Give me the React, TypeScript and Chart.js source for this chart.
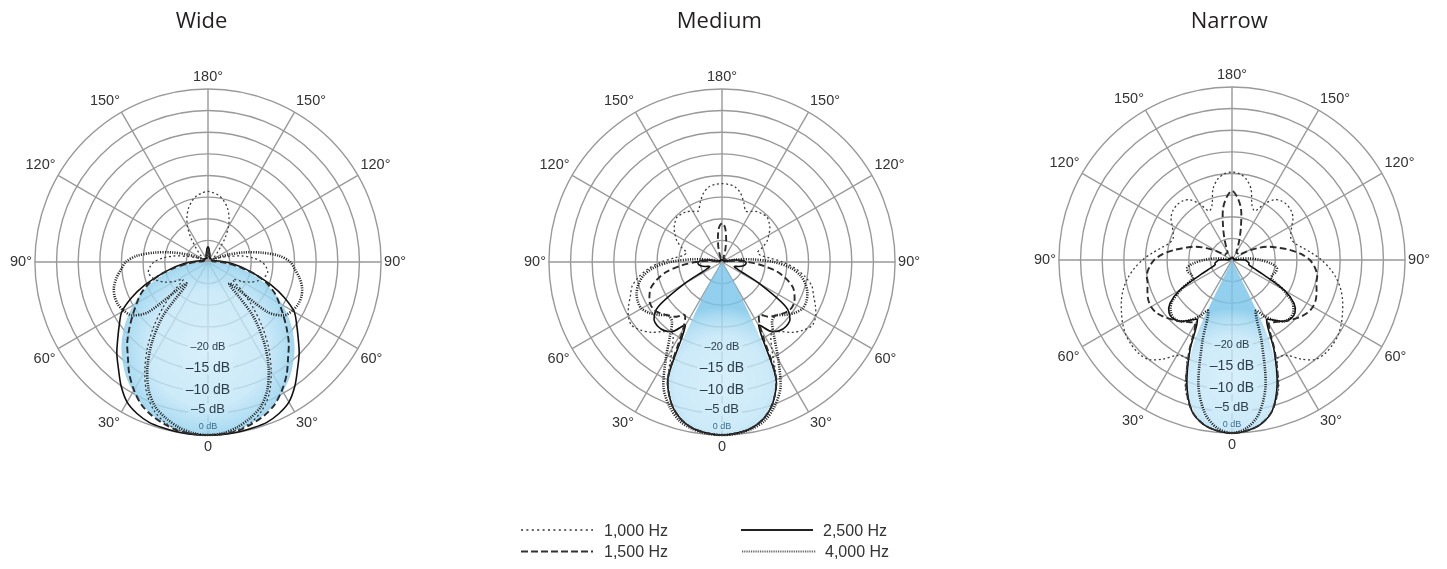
import React, { useEffect, useRef } from 'react';
import { Chart, registerables } from 'chart.js';

Chart.register(...registerables);

// ---------- categories (angle in degrees, 0 = on-axis, read on one side; patterns are symmetric)
const ANGLES = [0, 5, 10, 15, 20, 25, 30, 35, 40, 45, 50, 55, 60, 65, 70, 75, 80, 85, 90,
  95, 100, 105, 110, 115, 120, 125, 130, 135, 140, 145, 150, 155, 160, 165, 170, 175, 180];

const FREQ_LABELS = ['1,000 Hz', '1,500 Hz', '2,500 Hz', '4,000 Hz'];
const PANEL_TITLES = ['Wide', 'Medium', 'Narrow'];
const DB_TICKS = [-20, -15, -10, -5, 0];
const DB_LABELS = ['\u201320 dB', '\u201315 dB', '\u201310 dB', '\u20135 dB', '0 dB'];

// ---------- series values in dB (index i -> ANGLES[i])
const WIDE_FILL = [0, -0.2, -0.6, -1.4, -2.4, -3.7, -5.4, -7.2, -9.4, -11.7, -14.3, -17.1, -20, -23.1, -26.3, -29.6, -33, -36.5, -40,
  -40, -40, -40, -40, -40, -40, -40, -40, -40, -40, -40, -40, -40, -40, -40, -40, -40, -40];
const WIDE_1000 = [0, -0.2, -0.6, -1.6, -3.5, -6.5, -10.8, -15.5, -20.5, -25.5, -30, -33, -31, -29, -27.5, -26.5, -26, -26.5, -27.5,
  -29.5, -32, -35, -37, -38, -38.5, -38.5, -38, -37, -35.5, -33, -30.5, -28.5, -26.8, -25.5, -24.5, -24, -23.7];
const WIDE_1500 = [0, -0.1, -0.4, -1.2, -2.2, -3.6, -5.8, -8.3, -11.2, -13.6, -16.3, -18.8, -21, -23, -25.5, -28.5, -32, -35, -37,
  -38.5, -39, -39, -39, -39, -39, -39, -39, -39, -39, -39, -39, -39, -39, -38.5, -38, -37.5, -37];
const WIDE_2500 = [0, 0, -0.1, -0.3, -0.5, -1.3, -2.6, -5, -7.8, -10.2, -12.8, -15, -17, -20.5, -24.5, -28.5, -31.5, -34, -36,
  -37.5, -38.5, -39, -39, -39, -39, -39, -39, -39, -39, -39, -39, -39, -39, -38.5, -38, -37, -36.5];
const WIDE_4000 = [0, -0.3, -1.2, -2.6, -4.4, -7.5, -12, -17.5, -24, -33, -22, -18.5, -17.5, -17, -17, -17.5, -18.5, -19.8, -21,
  -23.5, -27.5, -31.5, -35, -37.5, -39, -39, -39, -39, -39, -39, -39, -39, -39, -39, -38.5, -38, -37.5];

const MED_FILL = [0, -0.3, -1.1, -2.9, -6, -11.5, -33, -40, -40, -40, -40, -40, -40, -40, -40, -40, -40, -40, -40,
  -40, -40, -40, -40, -40, -40, -40, -40, -40, -40, -40, -40, -40, -40, -40, -40, -40, -40];
const MED_1000 = [0, -0.3, -1, -2.6, -5.5, -10.5, -17, -20, -19, -17, -15.5, -14.5, -15, -16.2, -17.5, -18.5, -20.5, -23, -26,
  -29, -31, -31.5, -30, -28.5, -27.5, -26.5, -25.8, -25.3, -25.5, -25.8, -26.5, -27, -25.3, -23.5, -22.4, -22, -21.9];
const MED_1500 = [0, -0.3, -1, -2.6, -5.5, -10.5, -22, -25, -23.5, -22.5, -21.5, -20.8, -20.8, -21.5, -22.5, -24.5, -27, -30.5, -34,
  -37, -39, -39, -39, -39, -39, -39, -39, -39, -39, -39, -39, -39, -39, -37, -34.5, -32, -31];
const MED_2500 = [0, -0.3, -1, -2.6, -5.5, -10.5, -23, -20.5, -19.3, -19, -19.5, -22, -30, -36, -37, -36, -35, -34.5, -34.5,
  -35.5, -37.5, -39.5, -39.5, -39.5, -39.5, -39.5, -39.5, -39.5, -39.5, -39.5, -39.5, -39.5, -39.5, -39.5, -39.5, -39.5, -39.5];
const MED_4000 = [0, -0.2, -0.8, -2, -4.5, -8, -14, -19, -22, -22.5, -21, -19.5, -18.5, -18.5, -19, -20, -21.5, -24, -28,
  -33, -37, -39.5, -39.5, -39.5, -39.5, -39.5, -39.5, -39.5, -39.5, -39.5, -39.5, -39.5, -39.5, -39.5, -39.5, -39.5, -39.5];

const NAR_FILL = [0, -0.4, -1.6, -4.5, -9.5, -20, -40, -40, -40, -40, -40, -40, -40, -40, -40, -40, -40, -40, -40,
  -40, -40, -40, -40, -40, -40, -40, -40, -40, -40, -40, -40, -40, -40, -40, -40, -40, -40];
const NAR_1000 = [0, -0.4, -1.5, -4, -8.5, -15, -14.5, -12, -10, -9.5, -9.6, -10, -10.8, -11.8, -12.8, -14, -15.5, -17.3, -19.3,
  -21.5, -23.5, -25, -25.5, -25, -24, -22.8, -22.2, -22, -22.2, -23, -25, -27.5, -26.5, -23, -21, -20, -19.7];
const NAR_1500 = [0, -0.4, -1.5, -4, -9, -16.5, -23, -22.5, -21.5, -20.5, -19.5, -18.7, -18.4, -18.6, -19.2, -19.8, -20, -20.8, -22,
  -24, -26.5, -29, -31, -33.5, -36, -38, -38, -38, -38, -38, -38, -37, -35, -32, -28, -25.5, -24];
const NAR_2500 = [0, -0.4, -1.5, -4, -9.5, -17, -24, -23, -21.5, -20.8, -21, -22.5, -26, -32, -35, -36, -36, -36.5, -37,
  -39.5, -39.5, -39.5, -39.5, -39.5, -39.5, -39.5, -39.5, -39.5, -39.5, -39.5, -39.5, -39.5, -39.5, -39.5, -39.5, -39.5, -39.5];
const NAR_4000 = [0, -1, -4, -10, -20, -27, -25, -23, -21.5, -21, -21.5, -23, -26.5, -30, -30, -29.5, -29.5, -31, -33.5,
  -36, -38.5, -39.5, -39.5, -39.5, -39.5, -39.5, -39.5, -39.5, -39.5, -39.5, -39.5, -39.5, -39.5, -39.5, -39.5, -39.5, -39.5];

// ---------- styles
const LINE_STYLES = [
  { borderColor: '#3a3a3a', borderWidth: 1.3, borderDash: [2, 2.6] },
  { borderColor: '#2b2b2b', borderWidth: 1.9, borderDash: [6.5, 3.5] },
  { borderColor: '#111111', borderWidth: 1.6, borderDash: [] as number[] },
  { borderColor: '#262626', borderWidth: 2.6, borderDash: [1.1, 1.3] },
];
const DB_STYLE = [
  { size: 11, dy: -2, color: '#2c3e4a' },
  { size: 14, dy: -2, color: '#2c3e4a' },
  { size: 14, dy: -2, color: '#2c3e4a' },
  { size: 13, dy: -4, color: '#2c3e4a' },
  { size: 9, dy: -9, color: '#3d6f8e' },
];

const PANELS = [
  { title: PANEL_TITLES[0], series: [WIDE_1000, WIDE_1500, WIDE_2500, WIDE_4000], fill: WIDE_FILL, cx: 207.5, cy: 262, tx: 201, gc: -20, gr: 0.54 },
  { title: PANEL_TITLES[1], series: [MED_1000, MED_1500, MED_2500, MED_4000], fill: MED_FILL, cx: 721.7, cy: 262.5, tx: 719, gc: -12, gr: 0.44 },
  { title: PANEL_TITLES[2], series: [NAR_1000, NAR_1500, NAR_2500, NAR_4000], fill: NAR_FILL, cx: 1231.7, cy: 260.5, tx: 1229, gc: -12, gr: 0.42 },
];

const CW = 420;
const TITLE_BLOCK = 39.4;
const LABEL_FONT = '"Liberation Sans", Arial, sans-serif';

function mirror(half: number[]): number[] {
  return [...half, ...half.slice(1, half.length - 1).reverse()];
}

const FULL_LABELS = mirror(ANGLES).map((a) => (a === 0 ? '0' : `${a}\u00b0`));

const titlePlugin = {
  id: 'panelTitle',
  afterDraw(chart: any, _args: any, opts: any) {
    const ctx = chart.ctx;
    ctx.save();
    ctx.font = '22px "Open Sans", sans-serif';
    ctx.fillStyle = '#231f20';
    ctx.textAlign = 'center';
    ctx.textBaseline = 'alphabetic';
    ctx.fillText(opts.text, opts.x, opts.y);
    ctx.restore();
  },
};

const dbPlugin = {
  id: 'dbLabels',
  beforeDatasetsDraw(chart: any) {
    const s = chart.scales.r;
    const ctx = chart.ctx;
    ctx.save();
    DB_TICKS.forEach((v, i) => {
      const st = DB_STYLE[i];
      const p = s.getPointPositionForValue(0, v);
      ctx.font = `${st.size}px ${LABEL_FONT}`;
      const w = ctx.measureText(DB_LABELS[i]).width;
      ctx.fillStyle = '#ffffff';
      ctx.fillRect(p.x - w / 2 - 3, p.y + st.dy - st.size * 0.45, w + 6, st.size * 0.9);
    });
    ctx.restore();
  },
  afterDatasetsDraw(chart: any) {
    const s = chart.scales.r;
    const ctx = chart.ctx;
    ctx.save();
    ctx.textAlign = 'center';
    ctx.textBaseline = 'middle';
    DB_TICKS.forEach((v, i) => {
      const st = DB_STYLE[i];
      const p = s.getPointPositionForValue(0, v);
      ctx.font = `${st.size}px ${LABEL_FONT}`;
      ctx.fillStyle = st.color;
      ctx.fillText(DB_LABELS[i], p.x, p.y + st.dy);
    });
    ctx.restore();
  },
};

function PolarPanel({ panel }: { panel: typeof PANELS[number] }) {
  const ref = useRef<HTMLCanvasElement>(null);
  const H = Math.round(2 * panel.cy - TITLE_BLOCK + 3);
  const left = panel.cx - CW / 2;

  useEffect(() => {
    const canvas = ref.current;
    if (!canvas) return;
    const lineSets = panel.series.map((arr, i) => ({
      label: FREQ_LABELS[i],
      data: mirror(arr),
      borderColor: LINE_STYLES[i].borderColor,
      borderWidth: LINE_STYLES[i].borderWidth,
      borderDash: LINE_STYLES[i].borderDash,
      backgroundColor: 'transparent',
      pointRadius: 0,
      fill: false,
      tension: 0.3,
    }));
    const fillSet = {
      label: 'pattern',
      data: mirror(panel.fill),
      borderWidth: 0,
      borderColor: 'rgba(0,0,0,0)',
      pointRadius: 0,
      fill: 'start',
      tension: 0.3,
      backgroundColor: (c: any) => {
        const ch = c.chart;
        const s = ch.scales && ch.scales.r;
        if (!s || !s.drawingArea) return 'rgba(150,210,240,0.55)';
        const p = s.getPointPositionForValue(0, panel.gc);
        const rad = s.drawingArea * panel.gr;
        const g = ch.ctx.createRadialGradient(p.x, p.y, 0, p.x, p.y, rad);
        g.addColorStop(0, 'rgba(205,235,249,0.78)');
        g.addColorStop(0.62, 'rgba(192,229,247,0.8)');
        g.addColorStop(0.86, 'rgba(158,214,240,0.82)');
        g.addColorStop(1, 'rgba(122,197,234,0.82)');
        return g;
      },
    };
    const chart = new Chart(canvas, {
      type: 'radar',
      data: { labels: FULL_LABELS, datasets: [...lineSets, fillSet] as any },
      options: {
        responsive: false,
        animation: false,
        events: [],
        layout: { padding: { left: 12, right: 12, top: TITLE_BLOCK, bottom: H - (2 * panel.cy - TITLE_BLOCK) } },
        plugins: {
          legend: { display: false },
          tooltip: { enabled: false },
          title: { display: false },
          panelTitle: { text: panel.title, x: panel.tx - left, y: 27.5 },
        },
        scales: {
          r: {
            min: -40,
            max: 0,
            startAngle: 180,
            ticks: { display: false, stepSize: 5 },
            grid: { circular: true, color: '#999999', lineWidth: 1.4 },
            angleLines: {
              display: true,
              color: '#999999',
              lineWidth: (c: any) => (c.index % 6 === 0 ? 1.4 : 0),
            },
            pointLabels: {
              display: true,
              padding: 3,
              color: '#333333',
              font: (c: any) => ({ family: LABEL_FONT, size: c.index % 6 === 0 ? 14.5 : 1 }),
              callback: (label: string, i: number) => (i % 6 === 0 ? label : ''),
            },
          },
        },
      } as any,
      plugins: [dbPlugin, titlePlugin],
    });
    return () => chart.destroy();
  }, []);

  return (
    <div style={{ position: 'absolute', left, top: 0, width: CW, height: H }}>
      <canvas ref={ref} width={CW} height={H} />
    </div>
  );
}

const LEGEND_ITEMS = [
  { x1: 521, x2: 593, y: 530, tx: 604 },
  { x1: 521, x2: 593, y: 551.5, tx: 604 },
  { x1: 741, x2: 813, y: 530, tx: 823 },
  { x1: 742, x2: 816, y: 551.5, tx: 825 },
];
const LEGEND_LINES = [
  { w: 1.6, dash: '2 3.4', color: '#333' },
  { w: 2, dash: '7 3', color: '#333' },
  { w: 1.8, dash: '', color: '#222' },
  { w: 2, dash: '0.9 0.9', color: '#555' },
];

export default function App() {
  return (
    <div style={{ position: 'absolute', left: 0, top: 0, width: 1447, height: 569, overflow: 'hidden', background: '#fff' }}>
      {PANELS.map((p) => (
        <PolarPanel key={p.title} panel={p} />
      ))}
      <svg width={1447} height={569} style={{ position: 'absolute', left: 0, top: 0, pointerEvents: 'none' }}>
        {LEGEND_ITEMS.map((it, i) => (
          <g key={i}>
            <line x1={it.x1} x2={it.x2} y1={it.y} y2={it.y} stroke={LEGEND_LINES[i].color}
              strokeWidth={LEGEND_LINES[i].w} strokeDasharray={LEGEND_LINES[i].dash || undefined} />
            <text x={it.tx} y={it.y} dominantBaseline="central" fontFamily={LABEL_FONT} fontSize={16} fill="#333">
              {FREQ_LABELS[i]}
            </text>
          </g>
        ))}
      </svg>
    </div>
  );
}
